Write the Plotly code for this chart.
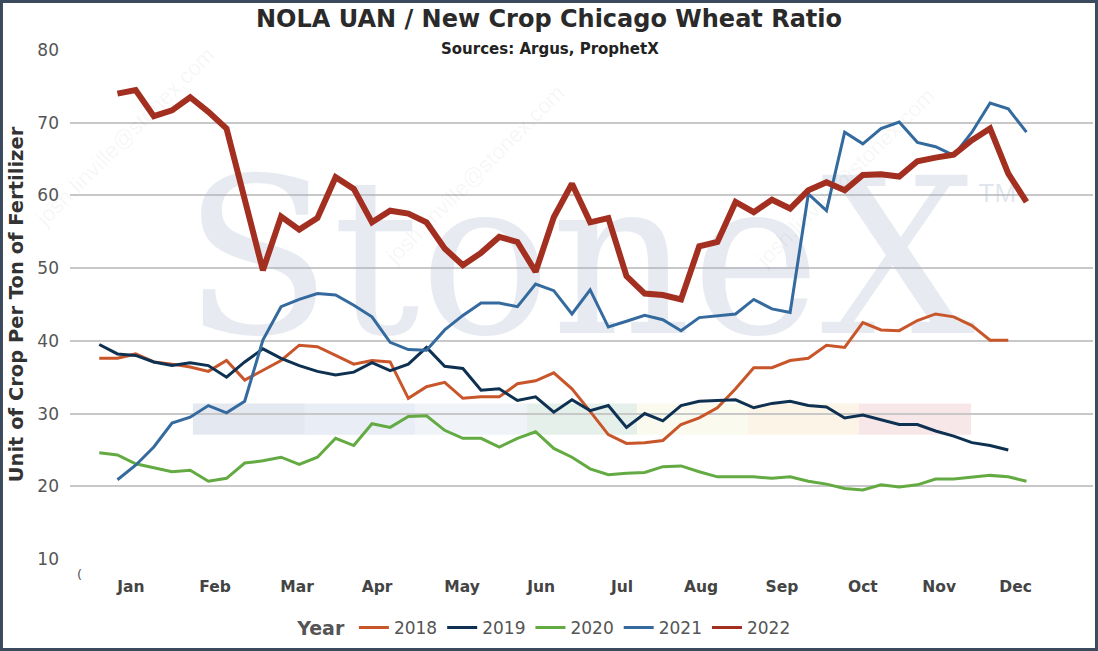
import plotly.graph_objects as go

# weekly ratio values (week 1 = first week of Jan)
y2018 = [37.6, 37.6, 38.2, 37.1, 36.8, 36.4, 35.8, 37.3, 34.6, 35.9, 37.3, 39.4,
         39.2, 38.0, 36.8, 37.3, 37.1, 32.1, 33.7, 34.3, 32.1, 32.3, 32.3, 34.1, 34.5, 35.6, 33.4,
         30.3, 27.1, 25.9, 26.0, 26.3, 28.5, 29.4, 30.8, 33.4, 36.3, 36.3, 37.3,
         37.6, 39.4, 39.1, 42.5, 41.5, 41.4, 42.8, 43.7, 43.3, 42.1, 40.1, 40.1]
y2019 = [39.5, 38.2, 38.0, 37.1, 36.6, 37.0, 36.6, 35.0, 37.1, 38.9, 37.6, 36.6,
         35.8, 35.3, 35.7, 37.0, 35.9, 36.8, 39.1, 36.5, 36.2, 33.2, 33.4, 31.8, 32.3, 30.2, 31.9,
         30.4, 31.1, 28.1, 30.0, 29.0, 31.1, 31.7, 31.8, 31.9, 30.8, 31.4, 31.7,
         31.1, 30.9, 29.4, 29.8, 29.2, 28.5, 28.5, 27.6, 26.9, 26.0, 25.6, 25.0]
y2020 = [24.6, 24.3, 23.1, 22.6, 22.0, 22.2, 20.7, 21.1, 23.2, 23.5, 24.0, 23.0,
         24.0, 26.6, 25.6, 28.6, 28.1, 29.6, 29.7, 27.7, 26.6, 26.6, 25.4, 26.6, 27.5, 25.2, 24.0,
         22.4, 21.6, 21.8, 21.9, 22.7, 22.8, 22.0, 21.3, 21.3, 21.3, 21.1, 21.3,
         20.7, 20.3, 19.7, 19.5, 20.2, 19.9, 20.2, 21.0, 21.0, 21.3, 21.5, 21.3, 20.7]
y2021 = [20.9, 22.9, 25.4, 28.7, 29.5, 31.1, 30.1, 31.7, 40.1, 44.7, 45.7,
         46.5, 46.3, 44.9, 43.3, 39.8, 38.8, 38.7, 41.5, 43.5, 45.2, 45.2, 44.7, 47.8, 46.9, 43.7,
         47.0, 41.9, 42.7, 43.5, 42.9, 41.4, 43.2, 43.5, 43.7, 45.7, 44.4, 43.9,
         60.2, 57.9, 68.7, 67.1, 69.2, 70.1, 67.3, 66.7, 65.5, 68.7, 72.7, 71.9, 68.7]
y2022 = [74.0, 74.5, 70.9, 71.7, 73.5, 71.5, 69.2, 59.3, 49.7, 57.1, 55.3,
         56.9, 62.5, 60.9, 56.3, 57.9, 57.5, 56.3, 52.7, 50.4, 52.1, 54.3, 53.6, 49.5, 57.0, 61.6,
         56.3, 56.9, 48.9, 46.5, 46.3, 45.7, 53.0, 53.6, 59.1, 57.7, 59.4, 58.2,
         60.7, 61.8, 60.7, 62.8, 62.9, 62.6, 64.7, 65.2, 65.6, 67.6, 69.2, 63.0, 59.1]

years = ["2018", "2019", "2020", "2021", "2022"]
first_week = [1, 1, 1, 2, 2]
months = ["Jan", "Feb", "Mar", "Apr", "May", "Jun",
          "Jul", "Aug", "Sep", "Oct", "Nov", "Dec"]

colors = ["#c9562b", "#0e3152", "#63aa42", "#346a9e", "#a32f20"]
widths = [3, 3, 3, 3, 6]
month_pos = [2.74, 7.37, 11.88, 16.28, 20.95, 25.3, 29.75, 34.1, 38.55, 43.0, 47.2, 51.4]

fig = go.Figure()

# faint StoneX watermark, drawn first so the lines sit on top
fig.add_trace(go.Scatter(
    x=[27.4], y=[48.6], mode="text", text=["StoneX"], showlegend=False, hoverinfo="skip",
    textfont=dict(family="DejaVu Serif", size=218, color="rgba(170,182,204,0.28)")))
fig.add_trace(go.Scatter(
    x=[50.4], y=[60.0], mode="text", text=["TM"], showlegend=False, hoverinfo="skip",
    textfont=dict(family="Liberation Sans", size=26, color="rgba(170,182,204,0.35)")))

for name, vals, start, c, w in zip(years, [y2018, y2019, y2020, y2021, y2022],
                                   first_week, colors, widths):
    fig.add_trace(go.Scatter(
        x=list(range(start, start + len(vals))), y=vals, name=name + " ", mode="lines",
        line=dict(color=c, width=w), showlegend=False))

# legend keys, all drawn with the thin line as in the original
for name, c in zip(years, colors):
    fig.add_trace(go.Scatter(x=[-5, -4], y=[0, 0], name=name, mode="lines",
                             line=dict(color=c, width=3), hoverinfo="skip"))

# pastel logo band behind the lines
band_x = [6.15, 12.31, 18.37, 24.53, 30.58, 36.69, 42.79, 48.95]
band_c = ["#e4e8f0", "#e9eef6", "#f0f4f9", "#e6f0ea", "#fafbee", "#fdf4e8", "#f8e7e9"]
for i, c in enumerate(band_c):
    fig.add_shape(type="rect", xref="x", yref="y", x0=band_x[i], x1=band_x[i + 1],
                  y0=27.1, y1=31.4, fillcolor=c, line_width=0, layer="below")

# outer frame
fig.add_shape(type="rect", xref="paper", yref="paper", x0=-0.067, x1=1.0034,
              y0=-0.1778, y1=1.0953, line=dict(color="#3b4b5d", width=3))

# diagonal e-mail watermark
for px, py in [(0.054, 0.83), (0.396, 0.755), (0.758, 0.75)]:
    fig.add_annotation(text="josh.linville@stonex.com", xref="paper", yref="paper",
                       x=px, y=py, xanchor="center", yanchor="middle",
                       showarrow=False, textangle=-45,
                       font=dict(family="Liberation Sans", size=22, color="rgba(0,0,0,0.05)"))

fig.add_annotation(text="Sources: Argus, ProphetX", xref="paper", yref="paper",
                   x=0.469, y=1.002, showarrow=False, yanchor="middle",
                   font=dict(family="DejaVu Sans", size=15, color="#222222", weight="bold"))
fig.add_annotation(text="Unit of Crop Per Ton of Fertilizer", xref="paper", yref="paper",
                   x=-0.052, y=0.5, showarrow=False, textangle=-90,
                   xanchor="center", yanchor="middle",
                   font=dict(family="DejaVu Sans", size=19.5, color="#333333", weight="bold"))
fig.add_annotation(text="(", xref="paper", yref="paper", x=0.0088, y=-0.0314,
                   xanchor="center", yanchor="middle",
                   showarrow=False, font=dict(family="DejaVu Sans", size=13, color="#555555"))

fig.update_layout(
    width=1098, height=651,
    margin=dict(l=70, r=5, t=50, b=92),
    paper_bgcolor="white", plot_bgcolor="white",
    title=dict(text="<b>NOLA UAN / New Crop Chicago Wheat Ratio</b>", x=0.5, xanchor="center",
               y=0.972, yanchor="middle",
               font=dict(family="DejaVu Sans", size=24, color="#2a2a2a")),
    legend=dict(orientation="h", x=0.465, xanchor="center", y=-0.1355, yanchor="middle",
                title=dict(text="<b>Year</b>", font=dict(family="DejaVu Sans", size=19, color="#555555")),
                font=dict(family="DejaVu Sans", size=17, color="#555555"),
                itemwidth=30, traceorder="normal"),
    xaxis=dict(range=[-0.61, 55.66], tickvals=month_pos, ticktext=months,
               showgrid=False, zeroline=False, showline=False, ticks="",
               ticklabelstandoff=16,
               tickfont=dict(family="DejaVu Sans", size=15.5, color="#444444", weight="bold")),
    yaxis=dict(range=[10, 80], dtick=10, showgrid=True, gridcolor="#c8c8c8", gridwidth=1.5,
               zeroline=False, showline=False, ticks="", ticklabelstandoff=10,
               tickfont=dict(family="DejaVu Sans", size=17, color="#555555")),
)

fig.write_html("out.html", config={"displayModeBar": False},
               post_script="document.body.style.margin='0px';")
